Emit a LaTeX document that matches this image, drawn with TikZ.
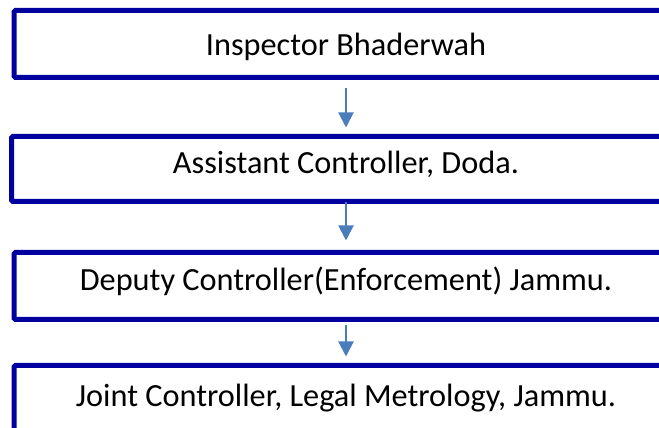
\documentclass[tikz,border=0pt]{standalone}
\usepackage{fontspec}
\setmainfont{Carlito}
\usetikzlibrary{arrows.meta}
\definecolor{boxblue}{RGB}{0,0,158}
\definecolor{arrowblue}{RGB}{74,126,187}
\tikzset{
  orgbox/.style={draw=boxblue, line width=5pt, rounded corners=1.5pt, fill=white,
    minimum width=664pt, minimum height=67pt, inner sep=0pt, text depth=0pt,
    font=\fontsize{32.3pt}{38pt}\selectfont, text=black},
  flowarrow/.style={draw=arrowblue, line width=2pt, -{Triangle[width=15pt,length=15pt]}}
}
\begin{document}
\begin{tikzpicture}[x=1pt,y=1pt]
\useasboundingbox (0,0) rectangle (659,428);
\clip (0,0) rectangle (659,428);
\node[orgbox, text height=24pt] (b1) at (346,{428-44}) {Inspector Bhaderwah};
\node[orgbox, text height=10pt, minimum width=669pt, minimum height=65pt] (b2) at (346,{428-169}) {Assistant Controller, Doda.};
\node[orgbox, text height=9.4pt] (b3) at (346,{428-286}) {Deputy Controller(Enforcement) Jammu.};
\node[orgbox, text height=16pt] (b4) at (346,{428-399}) {Joint Controller, Legal Metrology, Jammu.};
\draw[flowarrow, shorten <=8.5pt, shorten >=6.5pt] (b1.south) -- (b2.north);
\draw[flowarrow, shorten <=-1.5pt, shorten >=9.5pt] (b2.south) -- (b3.north);
\draw[flowarrow, shorten <=3.5pt, shorten >=6.5pt] (b3.south) -- (b4.north);
\end{tikzpicture}
\end{document}
